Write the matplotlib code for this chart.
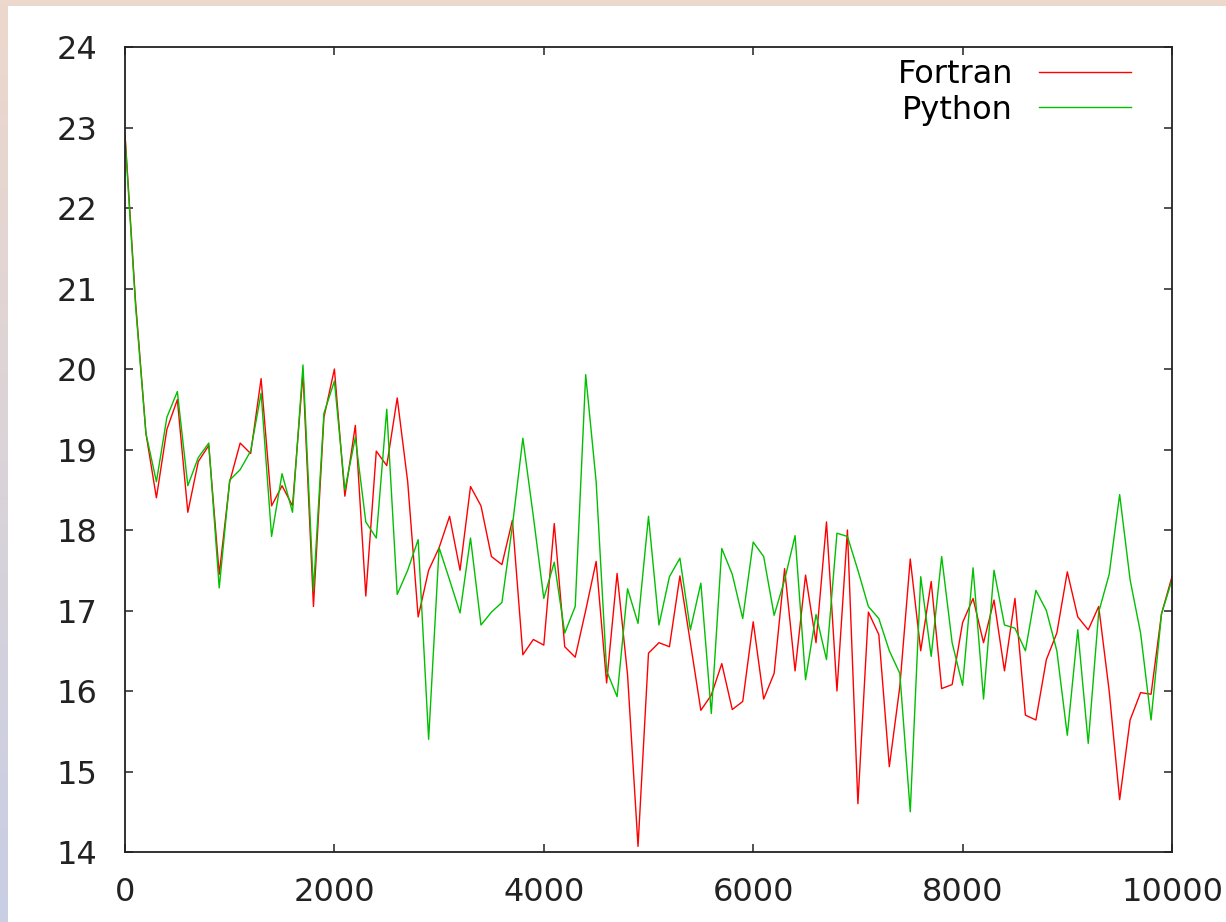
import numpy as np
import matplotlib.pyplot as plt
from matplotlib.patches import Rectangle

# sample positions (every 100 steps) and the two series
steps = np.arange(0, 10001, 100)

fortran = [22.92, 20.85, 19.2, 18.4, 19.25, 19.62, 18.22, 18.85, 19.05, 17.45,
           18.6, 19.08, 18.95, 19.88, 18.3, 18.55, 18.3, 19.95, 17.05, 19.4,
           20.0, 18.42, 19.3, 17.18, 18.98, 18.8, 19.64, 18.6, 16.92, 17.5,
           17.78, 18.17, 17.5, 18.54, 18.3, 17.67, 17.57, 18.12, 16.45, 16.64,
           16.57, 18.08, 16.55, 16.42, 17.0, 17.61, 16.1, 17.46, 16.2, 14.07,
           16.47, 16.6, 16.55, 17.43, 16.6, 15.76, 15.95, 16.34, 15.77, 15.87,
           16.86, 15.9, 16.22, 17.52, 16.25, 17.44, 16.6, 18.1, 16.0, 18.0,
           14.6, 16.98, 16.7, 15.06, 16.05, 17.64, 16.5, 17.36, 16.03, 16.08,
           16.85, 17.15, 16.6, 17.13, 16.25, 17.15, 15.7, 15.64, 16.39, 16.72,
           17.48, 16.92, 16.76, 17.05, 16.0, 14.65, 15.64, 15.98, 15.96, 16.96,
           17.42]

python = [22.88, 20.8, 19.2, 18.6, 19.4, 19.72, 18.55, 18.9, 19.08, 17.28,
          18.62, 18.75, 18.98, 19.7, 17.92, 18.7, 18.22, 20.05, 17.25, 19.45,
          19.85, 18.5, 19.15, 18.1, 17.9, 19.5, 17.2, 17.5, 17.88, 15.4,
          17.78, 17.38, 16.97, 17.9, 16.82, 16.98, 17.1, 18.05, 19.14, 18.17,
          17.15, 17.6, 16.72, 17.05, 19.93, 18.6, 16.25, 15.93, 17.27, 16.84,
          18.17, 16.82, 17.42, 17.65, 16.76, 17.34, 15.72, 17.77, 17.45, 16.9,
          17.85, 17.67, 16.94, 17.38, 17.93, 16.14, 16.95, 16.39, 17.96, 17.92,
          17.5, 17.05, 16.9, 16.5, 16.22, 14.5, 17.42, 16.43, 17.67, 16.6,
          16.07, 17.53, 15.9, 17.5, 16.82, 16.78, 16.5, 17.25, 17.0, 16.5,
          15.45, 16.76, 15.35, 16.98, 17.45, 18.44, 17.38, 16.72, 15.64, 16.96,
          17.38]

W, H = 1226, 922
fig = plt.figure(figsize=(W / 100, H / 100), dpi=100)

# gradient frame behind the white page (left and top edges)
bg = fig.add_axes([0, 0, 1, 1], zorder=-10)
t = np.linspace(0, 1, 256)[:, None, None]
top_c = np.array([237, 216, 204]) / 255
bot_c = np.array([200, 206, 228]) / 255
grad = top_c * (1 - t) + bot_c * t
grad = np.repeat(grad, 2, axis=1)
bg.imshow(grad, aspect='auto', extent=[0, 1, 0, 1], origin='upper')
bg.add_patch(Rectangle((8 / W, 0), 1, 1 - 6 / H, color='white', lw=0))
bg.set_xlim(0, 1)
bg.set_ylim(0, 1)
bg.axis('off')

ax = fig.add_axes([125 / W, (H - 852) / H, (1172 - 125) / W, (852 - 47) / H])
ax.set_facecolor('none')

ax.plot(steps, fortran, color='#ff0000', lw=1.0, label='Fortran')
ax.plot(steps, python, color='#00c000', lw=1.0, label='Python')

ax.set_xlim(0, 10000)
ax.set_ylim(14, 24)
ax.set_xticks(np.arange(0, 10001, 2000))
ax.set_yticks(np.arange(14, 25, 1))

for s in ax.spines.values():
    s.set_linewidth(1.3)
    s.set_color('#222222')

ax.tick_params(direction='in', length=6, width=1.1, color='#222222',
               top=True, right=True, labelsize=23, labelcolor='#222222')
ax.tick_params(axis='y', pad=20)
ax.tick_params(axis='x', pad=18)

ax.legend(loc='upper right', bbox_to_anchor=(1 - 28 / 1047, 1 + 1 / 805),
          frameon=False, markerfirst=False, fontsize=23, handlelength=2.9,
          handletextpad=0.8, labelspacing=0.15, borderaxespad=0)

fig.savefig('out.png', dpi=100)
